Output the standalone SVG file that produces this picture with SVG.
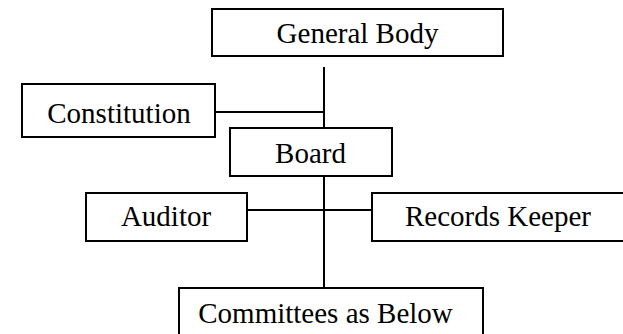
<svg xmlns="http://www.w3.org/2000/svg" width="623" height="334" viewBox="0 0 623 334">
<style>
.box{fill:#fff;stroke:#000;stroke-width:2}
.lbl{font-size:29px;fill:#000;text-anchor:middle}
.conn{stroke:#000;stroke-width:2;fill:none}
</style>
<rect width="623" height="334" fill="#fff"/>
<g id="connectors">
<line class="conn" x1="324" y1="67" x2="324" y2="128"/>
<line class="conn" x1="215" y1="112" x2="324" y2="112"/>
<line class="conn" x1="324" y1="176" x2="324" y2="288"/>
<line class="conn" x1="247" y1="210" x2="372" y2="210"/>
</g>
<g font-family="'Liberation Serif', 'Times New Roman', Tinos, 'DejaVu Serif', serif">
<g id="general-body">
<rect class="box" x="212" y="9" width="291" height="47"/>
<text class="lbl" x="357.5" y="43">General Body</text>
</g>
<g id="constitution">
<rect class="box" x="22" y="84" width="193" height="53"/>
<text class="lbl" x="119" y="123">Constitution</text>
</g>
<g id="board">
<rect class="box" x="230" y="128" width="162" height="48"/>
<text class="lbl" x="310.5" y="163">Board</text>
</g>
<g id="auditor">
<rect class="box" x="86" y="193" width="161" height="48"/>
<text class="lbl" x="166" y="226">Auditor</text>
</g>
<g id="records-keeper">
<rect class="box" x="372" y="193" width="252" height="48"/>
<text class="lbl" x="498" y="226">Records Keeper</text>
</g>
<g id="committees">
<rect class="box" x="179" y="288" width="304" height="50"/>
<text class="lbl" x="325.5" y="323">Committees as Below</text>
</g>
</g>
</svg>
